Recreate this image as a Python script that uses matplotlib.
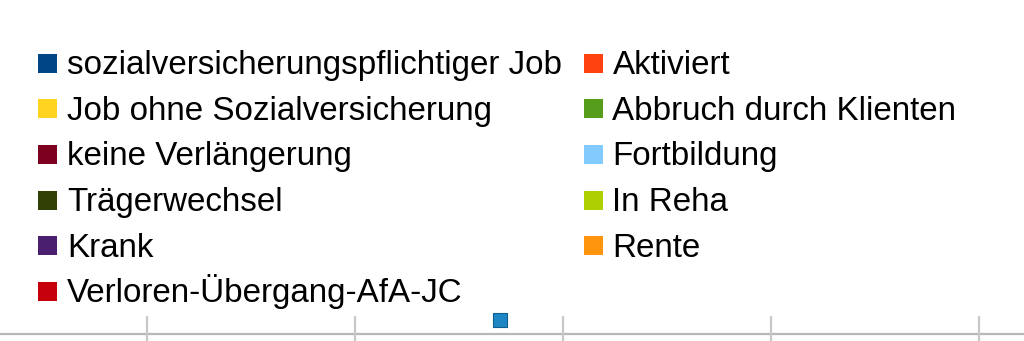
import matplotlib.pyplot as plt
from matplotlib.legend_handler import HandlerBase
from matplotlib.patches import Patch, Rectangle

plt.rcParams['font.family'] = ['Liberation Sans', 'DejaVu Sans']

# legend entries, column by column
labels = [
    'sozialversicherungspflichtiger Job',
    'Job ohne Sozialversicherung',
    'keine Verlängerung',
    'Trägerwechsel',
    'Krank',
    'Verloren-Übergang-AfA-JC',
    'Aktiviert',
    'Abbruch durch Klienten',
    'Fortbildung',
    'In Reha',
    'Rente',
]
colors = [
    '#004586', '#ffd320', '#7e0021', '#314004', '#4b1f6f', '#c5000b',
    '#ff420e', '#579d1c', '#83caff', '#aecf00', '#ff950e',
]

# visible bit of the plot area
ticks = [1, 2, 3, 4, 5]
point_x = [2.697]
point_y = [0.63]


class SquareHandler(HandlerBase):
    # small square, centred a bit above the text baseline
    def create_artists(self, legend, orig_handle, xdescent, ydescent,
                       width, height, fontsize, trans):
        size = 13.7
        y0 = 0.33 * fontsize - size / 2
        r = Rectangle((-xdescent, y0), size, size,
                      facecolor=orig_handle.get_facecolor(),
                      edgecolor='none', transform=trans)
        return [r]


fig = plt.figure(figsize=(10.24, 3.41), dpi=100)

ax = fig.add_axes([0, 0, 1, 0.1])
ax.set_xlim(1 - 147 / 208, 1 + (1024 - 147) / 208)
ax.set_ylim(0, 1)
ax.axis('off')
ax.axhline(0.205, color='#b8b8b8', lw=1.6)
ax.vlines(ticks, 0, 0.72, color='#c8c8c8', lw=1.6)
ax.scatter(point_x, point_y, marker='s', s=90, color='#1f86c4',
           edgecolors='#0f5f8f', linewidths=0.8, clip_on=False, zorder=3)

handles = [Patch(facecolor=c, edgecolor='none') for c in colors]
fig.legend(handles, labels, ncol=2, loc='upper left',
           bbox_to_anchor=(38 / 1024, 1 - 46 / 341),
           handler_map={Patch: SquareHandler()},
           frameon=False, fontsize=23.85, borderpad=0, borderaxespad=0,
           handlelength=0.57, handleheight=1.2,
           handletextpad=0.3, columnspacing=0.66, labelspacing=0.317)

fig.savefig('out.png', dpi=100, facecolor='white')
